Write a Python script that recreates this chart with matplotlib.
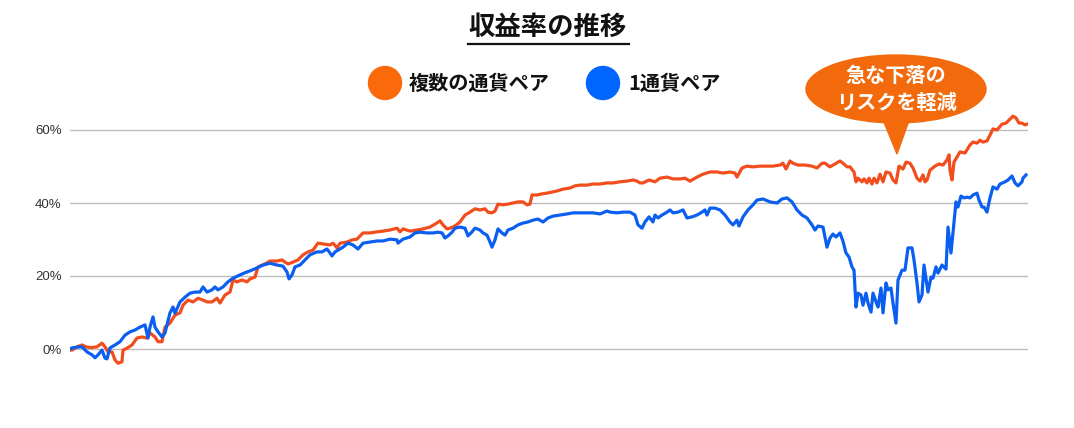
import matplotlib
matplotlib.use("Agg")
import matplotlib.pyplot as plt
from matplotlib.patches import Ellipse, Polygon, Circle
from matplotlib.ticker import FuncFormatter

plt.rcParams['font.family'] = ['Noto Sans CJK JP', 'DejaVu Sans']

# time index (weeks from start) and return in %
t_multi = [0, 2, 7, 12, 17, 22, 27, 32, 35, 38, 42, 45, 48, 52, 53, 57, 62, 67, 72, 77,
           80, 85, 88, 92, 95, 100, 105, 110, 113, 118, 123, 128, 133, 137, 142, 147, 150, 155, 160, 163,
           167, 172, 177, 180, 185, 188, 195, 200, 207, 212, 215, 218, 223, 228, 233, 238, 243, 248, 253, 260,
           263, 267, 270, 277, 282, 287, 293, 300, 307, 313, 320, 327, 330, 333, 340, 347, 353, 360, 365, 370,
           373, 377, 380, 385, 390, 395, 400, 405, 410, 415, 418, 422, 425, 428, 433, 438, 443, 448, 453, 457,
           460, 462, 467, 472, 477, 482, 487, 493, 500, 505, 510, 517, 523, 530, 537, 543, 550, 557, 563, 567,
           570, 573, 579, 585, 590, 597, 603, 610, 615, 620, 627, 633, 640, 647, 653, 660, 665, 667, 672, 677,
           683, 690, 697, 703, 710, 713, 716, 720, 723, 728, 735, 742, 747, 752, 755, 760, 765, 770, 773, 777,
           780, 784, 786, 788, 792, 794, 797, 799, 802, 804, 807, 810, 813, 816, 820, 823, 826, 829, 833, 836,
           840, 843, 847, 850, 853, 855, 857, 860, 865, 869, 873, 877, 879, 880, 882, 884, 887, 890, 895, 900,
           903, 907, 910, 913, 917, 920, 923, 927, 932, 936, 940, 943, 946, 949, 952, 955, 957]
r_multi = [-0.3, -0.3, 0.6, 1.1, 0.5, 0.4, 0.6, 1.6, 0.6, -0.8, -0.8, -3.0, -3.9, -3.5, -0.3, 0.2, 1.1, 3.0, 3.3, 3.0,
           4.4, 3.3, 2.0, 2.0, 6.0, 7.1, 9.3, 9.9, 12.0, 13.4, 12.9, 13.9, 13.4, 12.9, 12.9, 13.9, 12.6, 14.8, 15.6, 18.9,
           18.4, 18.9, 18.4, 19.2, 19.7, 22.5, 23.3, 24.1, 24.1, 24.4, 23.8, 23.3, 23.8, 24.4, 25.8, 26.6, 27.1, 29.0, 28.8, 28.5,
           29.0, 27.7, 29.0, 29.3, 29.9, 30.1, 31.8, 31.8, 32.1, 32.3, 32.6, 33.1, 32.1, 32.9, 32.3, 32.6, 32.9, 33.4, 34.2, 35.1,
           34.0, 32.9, 33.1, 33.7, 34.8, 36.7, 37.5, 38.4, 38.1, 38.4, 37.5, 37.3, 37.8, 39.7, 39.5, 39.7, 40.0, 40.3, 40.3, 39.5,
           39.7, 42.2, 42.2, 42.5, 42.7, 43.0, 43.3, 43.8, 44.1, 44.7, 44.9, 44.9, 45.2, 45.2, 45.5, 45.5, 45.8, 46.0, 46.3, 46.0,
           45.5, 45.5, 46.3, 45.8, 46.8, 47.1, 46.6, 46.6, 46.8, 46.0, 47.1, 47.9, 48.5, 48.5, 48.2, 48.5, 48.2, 47.1, 49.6, 50.1,
           49.9, 50.1, 50.1, 50.1, 50.4, 50.9, 49.3, 51.5, 50.9, 50.4, 50.4, 50.1, 49.6, 50.9, 50.9, 49.9, 50.7, 51.5, 50.9, 49.9,
           49.9, 48.5, 45.8, 46.8, 45.8, 46.6, 45.5, 46.8, 45.2, 46.8, 45.5, 47.9, 45.8, 48.5, 48.2, 46.3, 45.5, 50.1, 49.3, 51.2,
           50.9, 49.6, 46.8, 46.0, 47.7, 45.8, 46.3, 49.0, 50.1, 50.7, 50.4, 51.8, 53.2, 49.0, 46.3, 51.2, 52.6, 54.0, 53.7, 55.9,
           56.7, 56.4, 57.2, 56.7, 57.0, 58.6, 60.3, 60.0, 61.6, 61.9, 63.0, 63.8, 63.3, 61.9, 61.9, 61.4, 61.6]

t_single = [0, 2, 7, 12, 17, 22, 25, 28, 32, 35, 37, 40, 45, 50, 55, 60, 65, 70, 75, 78,
            80, 83, 85, 88, 92, 95, 100, 103, 105, 110, 115, 120, 125, 130, 133, 137, 142, 145, 148, 153,
            158, 163, 170, 175, 180, 187, 193, 200, 207, 213, 217, 219, 222, 225, 230, 235, 240, 247, 252, 257,
            260, 262, 265, 268, 273, 278, 283, 288, 293, 300, 307, 313, 320, 327, 328, 333, 340, 345, 350, 357,
            363, 368, 372, 375, 379, 382, 385, 390, 395, 398, 402, 405, 410, 413, 417, 420, 422, 425, 428, 432,
            435, 438, 443, 448, 453, 458, 463, 468, 473, 478, 483, 490, 497, 503, 510, 517, 523, 530, 537, 540,
            547, 553, 560, 565, 568, 572, 575, 579, 583, 585, 588, 592, 597, 600, 603, 608, 613, 617, 622, 627,
            632, 635, 637, 640, 645, 650, 655, 660, 663, 667, 669, 673, 678, 683, 687, 693, 700, 707, 712, 717,
            722, 727, 732, 737, 742, 745, 748, 753, 757, 760, 763, 766, 770, 773, 776, 779, 782, 784, 786, 788,
            791, 793, 796, 798, 801, 803, 806, 808, 811, 813, 816, 818, 821, 823, 826, 828, 832, 835, 838, 842,
            844, 847, 849, 852, 854, 856, 858, 861, 863, 866, 868, 872, 876, 878, 881, 883, 886, 888, 891, 894,
            897, 900, 903, 907, 909, 912, 914, 917, 920, 923, 927, 930, 935, 938, 942, 945, 948, 952, 953, 956]
r_single = [0.0, 0.3, 0.5, 0.6, -0.8, -1.6, -2.4, -1.6, -0.3, -2.5, -2.7, 0.3, 1.1, 2.0, 3.8, 4.7, 5.2, 6.0, 6.6, 3.0,
            6.0, 8.8, 6.0, 4.7, 3.3, 4.4, 9.9, 11.5, 9.8, 12.9, 14.2, 15.3, 15.6, 15.6, 17.0, 15.6, 16.2, 17.0, 16.2, 17.0,
            18.4, 19.4, 20.3, 20.9, 21.4, 22.2, 23.0, 23.5, 23.0, 22.7, 21.1, 19.2, 20.3, 22.5, 23.0, 24.4, 25.8, 26.6, 26.6, 27.4,
            26.3, 25.5, 26.6, 27.1, 27.9, 29.0, 28.5, 27.4, 29.0, 29.3, 29.6, 29.6, 30.1, 29.9, 29.0, 30.1, 30.7, 31.8, 32.0, 31.8,
            31.8, 32.0, 31.8, 30.4, 31.2, 32.0, 33.1, 33.4, 33.1, 31.0, 32.1, 33.1, 32.6, 31.8, 31.2, 29.3, 27.9, 29.9, 32.9, 31.8,
            31.2, 32.6, 33.1, 34.0, 34.5, 34.8, 35.3, 35.6, 34.8, 35.9, 36.4, 36.7, 37.0, 37.3, 37.3, 37.3, 37.3, 37.0, 37.8, 37.5,
            37.3, 37.5, 37.5, 36.7, 34.0, 33.1, 34.8, 36.2, 34.8, 36.7, 35.9, 36.7, 37.5, 38.1, 37.3, 37.5, 38.1, 35.9, 36.2, 36.7,
            37.5, 38.1, 36.7, 38.6, 38.6, 38.1, 36.7, 34.8, 34.0, 35.3, 33.7, 36.2, 38.1, 39.5, 40.8, 41.1, 40.3, 40.0, 41.1, 41.4,
            40.3, 38.1, 36.7, 35.9, 34.0, 32.6, 33.7, 33.4, 27.9, 30.4, 31.5, 30.7, 31.8, 29.5, 26.3, 25.2, 22.5, 21.6, 11.5, 15.3,
            14.8, 12.0, 15.3, 12.6, 10.1, 15.3, 12.9, 11.5, 16.7, 9.9, 18.1, 16.2, 16.7, 12.6, 7.1, 18.9, 21.6, 21.6, 27.7, 27.7,
            24.4, 18.1, 12.9, 14.8, 23.0, 19.4, 15.6, 19.7, 19.4, 22.5, 20.8, 23.0, 21.9, 33.4, 26.3, 31.8, 40.3, 38.9, 41.9, 41.4,
            41.6, 41.4, 42.2, 42.7, 40.8, 38.9, 38.9, 37.5, 41.4, 44.4, 43.8, 45.2, 45.8, 46.3, 47.4, 45.5, 44.7, 45.8, 46.8, 47.7]

series_names = ['複数の通貨ペア', '1通貨ペア']
y_ticks = [0, 20, 40, 60]
title = '収益率の推移'
callout = '急な下落の\nリスクを軽減'

orange_line = '#f24d1d'
blue_line = '#0b5ff0'
orange_mark = '#fb6a0a'
blue_mark = '#0066ff'

W, H = 1074, 428
fig = plt.figure(figsize=(W / 100, H / 100), dpi=100)

# plot area: x 70..1028 px, ylim -5..65 maps to y 111.75..367.25 px
ax = fig.add_axes([70 / W, (H - 367.25) / H, 958 / W, 255.5 / H])
ax.plot(t_multi, r_multi, color=orange_line, lw=2.3, solid_joinstyle='round', zorder=3)
ax.plot(t_single, r_single, color=blue_line, lw=2.3, solid_joinstyle='round', zorder=4)
ax.set_xlim(0, 958)
ax.set_ylim(-5, 65)
ax.set_yticks(y_ticks)
ax.yaxis.set_major_formatter(FuncFormatter(lambda v, p: f'{v:.0f}%'))
ax.tick_params(axis='y', length=0, pad=6, labelsize=9.5, labelcolor='#333333')
for lab in ax.get_yticklabels():
    lab.set_family(['Liberation Sans', 'DejaVu Sans'])
ax.set_xticks([])
ax.grid(axis='y', color='#bdbdbd', lw=1.0)
ax.set_axisbelow(True)
for s in ax.spines.values():
    s.set_visible(False)

# overlay in pixel coordinates for title, legend and callout
ov = fig.add_axes([0, 0, 1, 1], zorder=10)
ov.set_xlim(0, W)
ov.set_ylim(H, 0)
ov.axis('off')

ov.text(548, 27, title, fontsize=19, fontweight='bold', ha='center', va='center', color='#111111')
ov.plot([468, 629], [44, 44], color='#111111', lw=1.6)

ov.add_patch(Circle((385, 83), 16.5, color=orange_mark))
ov.text(409, 83, series_names[0], fontsize=14.5, fontweight='bold', ha='left', va='center', color='#111111')
ov.add_patch(Circle((603, 83), 16.5, color=blue_mark))
ov.text(628, 83, series_names[1], fontsize=14.5, fontweight='bold', ha='left', va='center', color='#111111')

ov.add_patch(Ellipse((896, 89), 180, 68, color='#f26a0c'))
ov.add_patch(Polygon([(881, 115), (911, 115), (897, 154)], closed=True, color='#f26a0c'))
lines = callout.split('\n')
ov.text(896, 75, lines[0], fontsize=14.5, fontweight='bold', ha='center', va='center', color='white')
ov.text(896, 102, lines[1], fontsize=14.5, fontweight='bold', ha='center', va='center', color='white')

fig.savefig('out.png', dpi=100)
